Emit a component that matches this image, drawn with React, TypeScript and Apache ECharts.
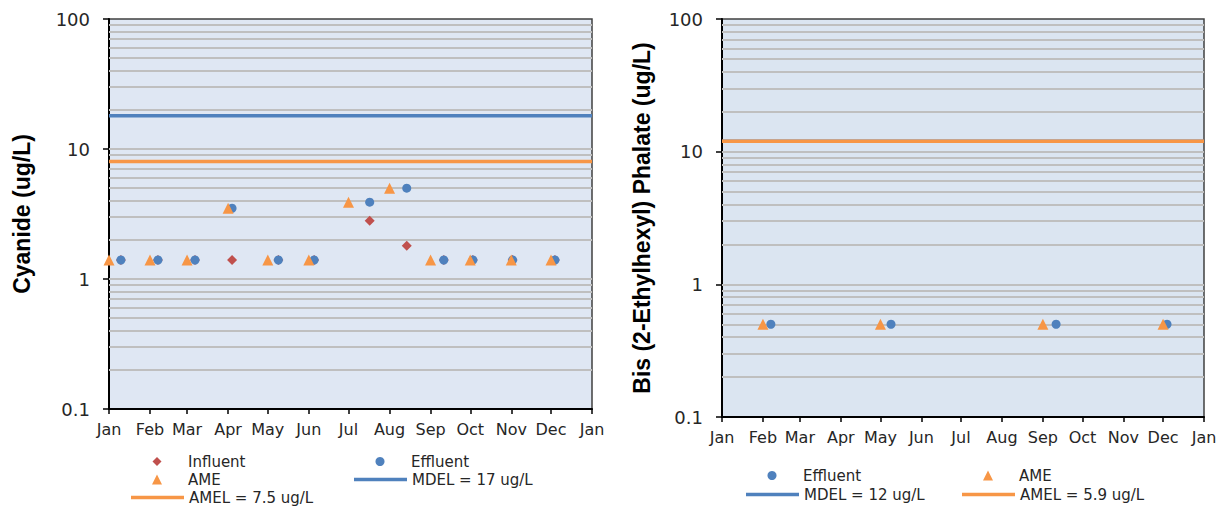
import React, { useEffect, useRef } from "react";
import * as echarts from "echarts";

// ---------- data ----------
const X_MIN = "2015-01-01";
const X_MAX = "2016-01-01";
const monthLabels = ["Jan", "Feb", "Mar", "Apr", "May", "Jun", "Jul", "Aug", "Sep", "Oct", "Nov", "Dec"];
const yTickValues = [0.1, 1, 10, 100];
const gridLineValues = [
  0.2, 0.3, 0.4, 0.5, 0.6, 0.7, 0.8, 0.9,
  1, 2, 3, 4, 5, 6, 7, 8, 9,
  10, 20, 30, 40, 50, 60, 70, 80, 90,
];

// Chart 1 – Cyanide
const cySampleDates = [
  "2015-01-10", "2015-02-07", "2015-03-07", "2015-04-04", "2015-05-09", "2015-06-05",
  "2015-07-17", "2015-08-14", "2015-09-11", "2015-10-03", "2015-11-02", "2015-12-04",
];
const cyInfluent = [1.4, 1.4, 1.4, 1.4, 1.4, 1.4, 2.8, 1.8, 1.4, 1.4, 1.4, 1.4];
const cyEffluent = [1.4, 1.4, 1.4, 3.5, 1.4, 1.4, 3.9, 5.0, 1.4, 1.4, 1.4, 1.4];
const cyAmeDates = [
  "2015-01-01", "2015-02-01", "2015-03-01", "2015-04-01", "2015-05-01", "2015-06-01",
  "2015-07-01", "2015-08-01", "2015-09-01", "2015-10-01", "2015-11-01", "2015-12-01",
];
const cyAme = [1.4, 1.4, 1.4, 3.5, 1.4, 1.4, 3.9, 5.0, 1.4, 1.4, 1.4, 1.4];
const cyMdelLevel = 18;
const cyAmelLevel = 8;
const cyMdelName = "MDEL = 17 ug/L";
const cyAmelName = "AMEL = 7.5 ug/L";

// Chart 2 – Bis (2-Ethylhexyl) Phalate
const bisEffluentDates = ["2015-02-07", "2015-05-09", "2015-09-11", "2015-12-04"];
const bisEffluent = [0.5, 0.5, 0.5, 0.5];
const bisAmeDates = ["2015-02-01", "2015-05-01", "2015-09-01", "2015-12-01"];
const bisAme = [0.5, 0.5, 0.5, 0.5];
const bisMdelLevel = 12;
const bisAmelLevel = 12;
const bisMdelName = "MDEL = 12 ug/L";
const bisAmelName = "AMEL = 5.9 ug/L";

// ---------- styles ----------
const RED = "#c0504d";
const BLUE = "#4f81bd";
const ORANGE = "#f79646";
const GRID_GRAY = "#bfbfbf";
const TXT = "#262626";
const FONT = "DejaVu Sans";

const pairs = (dates: string[], vals: number[]) => dates.map((d, i) => [d, vals[i]]);

function xAxisFor(gridIndex: number) {
  return {
    type: "time",
    gridIndex,
    min: X_MIN,
    max: X_MAX,
    minInterval: 28 * 24 * 3600 * 1000,
    maxInterval: 31 * 24 * 3600 * 1000,
    axisLine: { show: true, onZero: false, lineStyle: { color: "#000", width: 2 } },
    axisTick: { show: true, length: 5, lineStyle: { color: "#000", width: 1.5 } },
    axisLabel: {
      formatter: (v: number) => monthLabels[new Date(v).getMonth()],
      color: TXT,
      fontSize: 16,
      fontFamily: FONT,
      margin: 12,
      hideOverlap: false,
      showMinLabel: true,
      showMaxLabel: true,
    },
    splitLine: { show: false },
    minorTick: { show: false },
  };
}

function yAxisFor(gridIndex: number, name: string, nameGap: number) {
  return {
    type: "log",
    logBase: 10,
    gridIndex,
    min: yTickValues[0],
    max: yTickValues[yTickValues.length - 1],
    axisLine: { show: true, onZero: false, lineStyle: { color: "#000", width: 2 } },
    axisTick: { show: true, length: 6, lineStyle: { color: "#000", width: 1.5 } },
    axisLabel: {
      formatter: (v: number) => (v < 1 ? v.toFixed(1) : String(Math.round(v))),
      color: TXT,
      fontSize: 18,
      fontFamily: FONT,
      margin: 19,
    },
    splitLine: { show: false },
    name,
    nameLocation: "middle",
    nameGap,
    nameTextStyle: { fontSize: 23, fontWeight: "bold", fontFamily: "Liberation Sans", color: "#000" },
  };
}

function gridLinesSeries(axisIndex: number) {
  return {
    type: "line",
    name: "__grid" + axisIndex,
    xAxisIndex: axisIndex,
    yAxisIndex: axisIndex,
    data: [],
    silent: true,
    z: 1,
    markLine: {
      silent: true,
      z: 1,
      symbol: "none",
      label: { show: false },
      lineStyle: { color: GRID_GRAY, width: 2, type: "solid" },
      emphasis: { disabled: true },
      data: gridLineValues.map((v) => ({ yAxis: v })),
    },
  };
}

function scatter(name: string, axisIndex: number, dates: string[], vals: number[], symbol: string, size: number, color: string) {
  return {
    type: "scatter",
    name,
    xAxisIndex: axisIndex,
    yAxisIndex: axisIndex,
    symbol,
    symbolSize: size,
    z: 3,
    itemStyle: { color, opacity: 1 },
    data: pairs(dates, vals),
  };
}

function levelLine(name: string, axisIndex: number, level: number, color: string) {
  return {
    type: "line",
    name,
    xAxisIndex: axisIndex,
    yAxisIndex: axisIndex,
    symbol: "none",
    showSymbol: false,
    z: 4,
    lineStyle: { color, width: 3.5 },
    itemStyle: { color },
    data: [[X_MIN, level], [X_MAX, level]],
  };
}

// legend: marker centred on centerX, text starting 31px right of marker centre
function legendMarker(name: string, icon: string, size: number, centerX: number, centerY: number) {
  return {
    data: [{ name, icon }],
    left: centerX - size / 2,
    top: centerY - 7,
    padding: 0,
    itemWidth: size,
    itemHeight: size,
    selectedMode: false,
    textStyle: {
      fontSize: 15, fontFamily: FONT, color: TXT,
      padding: [0, 0, 0, 31 - size / 2 - 5],
    },
  };
}

function legendLine(name: string, left: number, centerY: number) {
  return {
    data: [{ name, icon: "rect" }],
    left,
    top: centerY - 7,
    padding: 0,
    itemWidth: 53,
    itemHeight: 3.5,
    selectedMode: false,
    textStyle: { fontSize: 15, fontFamily: FONT, color: TXT },
  };
}

export default function App() {
  const ref = useRef<HTMLDivElement>(null);

  useEffect(() => {
    if (!ref.current) return;
    const chart = echarts.init(ref.current, null, { renderer: "svg" });
    const option: any = {
      animation: false,
      backgroundColor: "#ffffff",
      grid: [
        { left: 109, right: 635, top: 19, bottom: 99, show: true, backgroundColor: "#dfe7f3", borderColor: "#404040", borderWidth: 1.5 },
        { left: 722, right: 23, top: 19, bottom: 91, show: true, backgroundColor: "#dbe5f1", borderColor: "#404040", borderWidth: 1.5 },
      ],
      xAxis: [xAxisFor(0), xAxisFor(1)],
      yAxis: [yAxisFor(0, "Cyanide (ug/L)", 76), yAxisFor(1, "Bis (2-Ethylhexyl) Phalate (ug/L)", 69)],
      legend: [
        legendMarker("Influent", "diamond", 9, 157, 461),
        legendMarker("AME", "triangle", 10, 157, 479),
        legendLine(cyAmelName, 131, 497),
        legendMarker("Effluent", "circle", 9, 380, 461),
        legendLine(cyMdelName, 354, 479),
        legendMarker("Effluent", "circle", 9, 772, 475),
        legendLine(bisMdelName, 746, 494),
        legendMarker("AME", "triangle", 10, 988, 475),
        legendLine(bisAmelName, 962, 494),
      ],
      series: [
        gridLinesSeries(0),
        scatter("Influent", 0, cySampleDates, cyInfluent, "diamond", 10, RED),
        scatter("Effluent", 0, cySampleDates, cyEffluent, "circle", 9, BLUE),
        scatter("AME", 0, cyAmeDates, cyAme, "triangle", 11, ORANGE),
        levelLine(cyMdelName, 0, cyMdelLevel, BLUE),
        levelLine(cyAmelName, 0, cyAmelLevel, ORANGE),

        gridLinesSeries(1),
        scatter("Effluent", 1, bisEffluentDates, bisEffluent, "circle", 9, BLUE),
        scatter("AME", 1, bisAmeDates, bisAme, "triangle", 11, ORANGE),
        levelLine(bisMdelName, 1, bisMdelLevel, BLUE),
        levelLine(bisAmelName, 1, bisAmelLevel, ORANGE),
      ],
    };
    chart.setOption(option);
    return () => chart.dispose();
  }, []);

  return (
    <div
      ref={ref}
      style={{ position: "absolute", left: 0, top: 0, width: 1227, height: 508 }}
    />
  );
}
